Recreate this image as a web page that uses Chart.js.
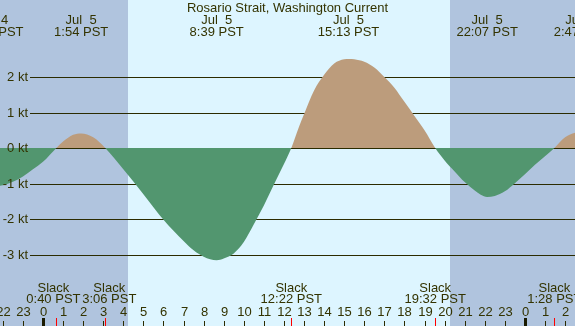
<!DOCTYPE html>
<html>
<head>
<meta charset="utf-8">
<script src="https://cdn.jsdelivr.net/npm/chart.js@4.4.1/dist/chart.umd.min.js"></script>
<style>
  html, body { margin: 0; padding: 0; background: #ddf5ff; }
  #wrap { width: 575px; height: 326px; position: relative; }
</style>
</head>
<body>
<div id="wrap"><canvas id="currentChart"></canvas></div>
<script>
// hours after Jul 5 00:00 PST, current speed in knots (flood +, ebb -)
var hours = [-2.6, -2, -1.5, -1, -0.5, 0, 0.667, 1, 1.5, 1.9, 2.5, 3.1, 4, 5, 6, 7, 7.5, 8, 8.65, 9, 9.5, 10, 10.5, 11, 11.5, 12, 12.367, 12.75, 13, 13.5, 14, 14.5, 15, 15.25, 15.5, 16, 16.5, 17, 17.5, 18, 18.5, 19, 19.533, 20, 20.5, 21, 21.5, 21.8, 22.117, 22.5, 23, 23.5, 24, 24.5, 25, 25.467, 26, 26.5, 26.783, 27.2];
var speeds = [-1.10, -1.05, -0.95, -0.80, -0.60, -0.39, 0, 0.18, 0.37, 0.41, 0.30, 0, -0.60, -1.30, -2.02, -2.62, -2.88, -3.06, -3.16, -3.11, -2.97, -2.65, -2.15, -1.62, -1.03, -0.45, 0, 0.60, 0.95, 1.62, 2.06, 2.38, 2.50, 2.51, 2.50, 2.43, 2.27, 2.00, 1.70, 1.30, 0.90, 0.50, 0, -0.35, -0.66, -0.96, -1.20, -1.32, -1.38, -1.35, -1.22, -0.99, -0.74, -0.47, -0.23, 0, 0.30, 0.43, 0.46, 0.40];

// max flood / max ebb events
var peakTimes = [-2.5, 1.9, 8.65, 15.217, 22.117, 26.783];
var peakDates = ['Jul  4', 'Jul  5', 'Jul  5', 'Jul  5', 'Jul  5', 'Jul  6'];
var peakLabels = ['21:30 PST', '1:54 PST', '8:39 PST', '15:13 PST', '22:07 PST', '2:47 PST'];

// slack water events
var slackTimes = [0.667, 3.1, 12.367, 19.533, 25.467];
var slackLabels = ['0:40 PST', '3:06 PST', '12:22 PST', '19:32 PST', '1:28 PST'];

// daylight
var sunrise = 4.23;
var sunset = 20.27;

var hourTicks = [-2, -1, 0, 1, 2, 3, 4, 5, 6, 7, 8, 9, 10, 11, 12, 13, 14, 15, 16, 17, 18, 19, 20, 21, 22, 23, 24, 25, 26];
var speedTicks = [-3, -2, -1, 0, 1, 2];

var title = 'Rosario Strait, Washington Current';

var FONT = '13px "Liberation Sans", Arial, sans-serif';
var INK = '#333300';
var NIGHT = '#b0c4de';
var DAY = '#ddf5ff';

var tidePlugin = {
    id: 'tidePlugin',
    beforeDraw: function (chart) {
        var c = chart.ctx, x = chart.scales.x;
        var w = chart.width, h = chart.height;
        var x1 = x.getPixelForValue(sunrise), x2 = x.getPixelForValue(sunset);
        c.save();
        c.fillStyle = NIGHT;
        c.fillRect(0, 0, w, h);
        c.fillStyle = DAY;
        c.fillRect(Math.round(x1), 0, Math.round(x2) - Math.round(x1), h);
        c.restore();
    },
    beforeDatasetsDraw: function (chart) {
        var c = chart.ctx, y = chart.scales.y;
        c.save();
        c.strokeStyle = '#2b2b00';
        c.lineWidth = 1.2;
        speedTicks.forEach(function (v) {
            var py = Math.round(y.getPixelForValue(v)) + 0.5;
            c.beginPath();
            c.moveTo(30, py);
            c.lineTo(chart.width, py);
            c.stroke();
        });
        c.restore();
    },
    afterDatasetsDraw: function (chart) {
        var c = chart.ctx, x = chart.scales.x, y = chart.scales.y;
        c.save();
        c.font = FONT;
        c.fillStyle = INK;

        // y labels
        c.textAlign = 'right';
        c.textBaseline = 'middle';
        speedTicks.forEach(function (v) {
            c.fillText(v + ' kt', 28, Math.round(y.getPixelForValue(v)) + 0.5);
        });

        // title and peak labels
        c.textAlign = 'center';
        c.textBaseline = 'alphabetic';
        c.fillText(title, chart.width / 2, 12);
        peakTimes.forEach(function (t, i) {
            var px = x.getPixelForValue(t);
            c.fillText(peakDates[i], px, 24);
            c.fillText(peakLabels[i], px, 36);
        });

        // slack labels (the first two are nudged apart)
        var nudge = [-3, 4, 0, 0, 0];
        slackTimes.forEach(function (t, i) {
            var px = x.getPixelForValue(t) + nudge[i];
            c.fillText('Slack', px, 292);
            c.fillText(slackLabels[i], px, 303);
        });

        // hour ticks
        c.strokeStyle = '#2b2b00';
        c.lineWidth = 1;
        hourTicks.forEach(function (t) {
            var px = Math.round(x.getPixelForValue(t));
            var hr = ((t % 24) + 24) % 24;
            c.fillText(String(hr), px + 0.5, 316);
            if (hr === 0) {
                c.fillStyle = '#1a1a00';
                c.fillRect(px - 1, 318, 3, 8);
                c.fillStyle = INK;
            } else {
                c.beginPath();
                c.moveTo(px + 0.5, 321);
                c.lineTo(px + 0.5, 326);
                c.stroke();
            }
        });

        // slack ticks in red
        c.strokeStyle = '#ff0000';
        slackTimes.forEach(function (t) {
            var px = Math.round(x.getPixelForValue(t)) + 0.5;
            c.beginPath();
            c.moveTo(px, 318);
            c.lineTo(px, 326);
            c.stroke();
        });
        c.restore();
    }
};

var ctx = document.getElementById('currentChart').getContext('2d');
var currentChart = new Chart(ctx, {
    type: 'line',
    data: {
        datasets: [{
            data: hours.map(function (t, i) { return { x: t, y: speeds[i] }; }),
            borderWidth: 0,
            borderColor: 'rgba(0,0,0,0)',
            pointRadius: 0,
            cubicInterpolationMode: 'monotone',
            fill: { target: 'origin', above: '#bc9c7c', below: '#52966f' }
        }]
    },
    options: {
        responsive: true,
        maintainAspectRatio: false,
        animation: false,
        layout: { padding: 0 },
        plugins: {
            legend: { display: false },
            tooltip: { enabled: false }
        },
        scales: {
            x: { type: 'linear', display: false, min: -2.1414, max: 26.494 },
            y: { type: 'linear', display: false, min: -5.014, max: 4.169 }
        }
    },
    plugins: [tidePlugin]
});
</script>
</body>
</html>
